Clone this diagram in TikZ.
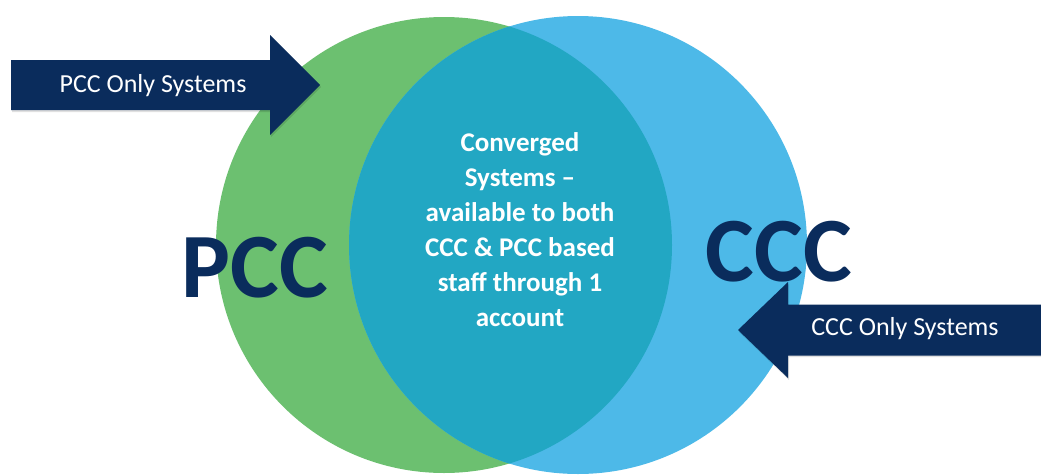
\documentclass[tikz,border=0pt]{standalone}
\usepackage{fontspec}
\setmainfont{Carlito}
\definecolor{gcol}{HTML}{6CC070}
\definecolor{bcol}{HTML}{4DB9E8}
\definecolor{lens}{HTML}{22A7C3}
\definecolor{navy}{HTML}{0A2C5C}
\tikzset{
  arrowshape/.style={fill=navy},
  arrowshadow/.style={fill=black,opacity=0.12},
  arrowtext/.style={text=white,font=\fontsize{26}{30}\selectfont,inner sep=0pt},
  bigtext/.style={text=navy,font=\bfseries\fontsize{92}{100}\selectfont,inner sep=0pt},
  lenstext/.style={text=white,font=\bfseries\fontsize{27}{35}\selectfont,align=center,inner sep=0pt}
}
\begin{document}
\begin{tikzpicture}[x=1pt,y=-1pt]
\useasboundingbox (0,0) rectangle (1041,474);
\begin{scope}
\clip (0,0) rectangle (1041,474);
\fill[gcol] (444,245) circle[radius=228];
\fill[bcol] (578,245) circle[radius=229];
\begin{scope}
\clip (444,245) circle[radius=228];
\fill[lens] (578,245) circle[radius=229];
\end{scope}
\end{scope}
% left arrow
\fill[arrowshadow] (12,62) -- (271,62) -- (271,37) -- (321,87) -- (271,137) -- (271,112) -- (12,112) -- cycle;
\fill[arrowshape] (11,60) -- (270,60) -- (270,35) -- (320,85) -- (270,135) -- (270,110) -- (11,110) -- cycle;
% right arrow
\fill[arrowshadow] (1041,306) -- (789,306) -- (789,284) -- (739,332) -- (789,380) -- (789,357) -- (1041,357) -- cycle;
\fill[arrowshape] (1041,304.5) -- (788,304.5) -- (788,282) -- (738,330) -- (788,378) -- (788,355.5) -- (1041,355.5) -- cycle;
\node[arrowtext] (pccsys) at (153,86) {PCC Only Systems};
\node[arrowtext] (cccsys) at (905,329) {CCC Only Systems};
\node[bigtext,anchor=base] (pcc) at (255,297) {PCC};
\node[bigtext,anchor=base] (ccc) at (779,281) {CCC};
\node[lenstext] (conv) at (520,230) {Converged\\Systems –\\available to both\\CCC \& PCC based\\staff through 1\\account};
\end{tikzpicture}
\end{document}
